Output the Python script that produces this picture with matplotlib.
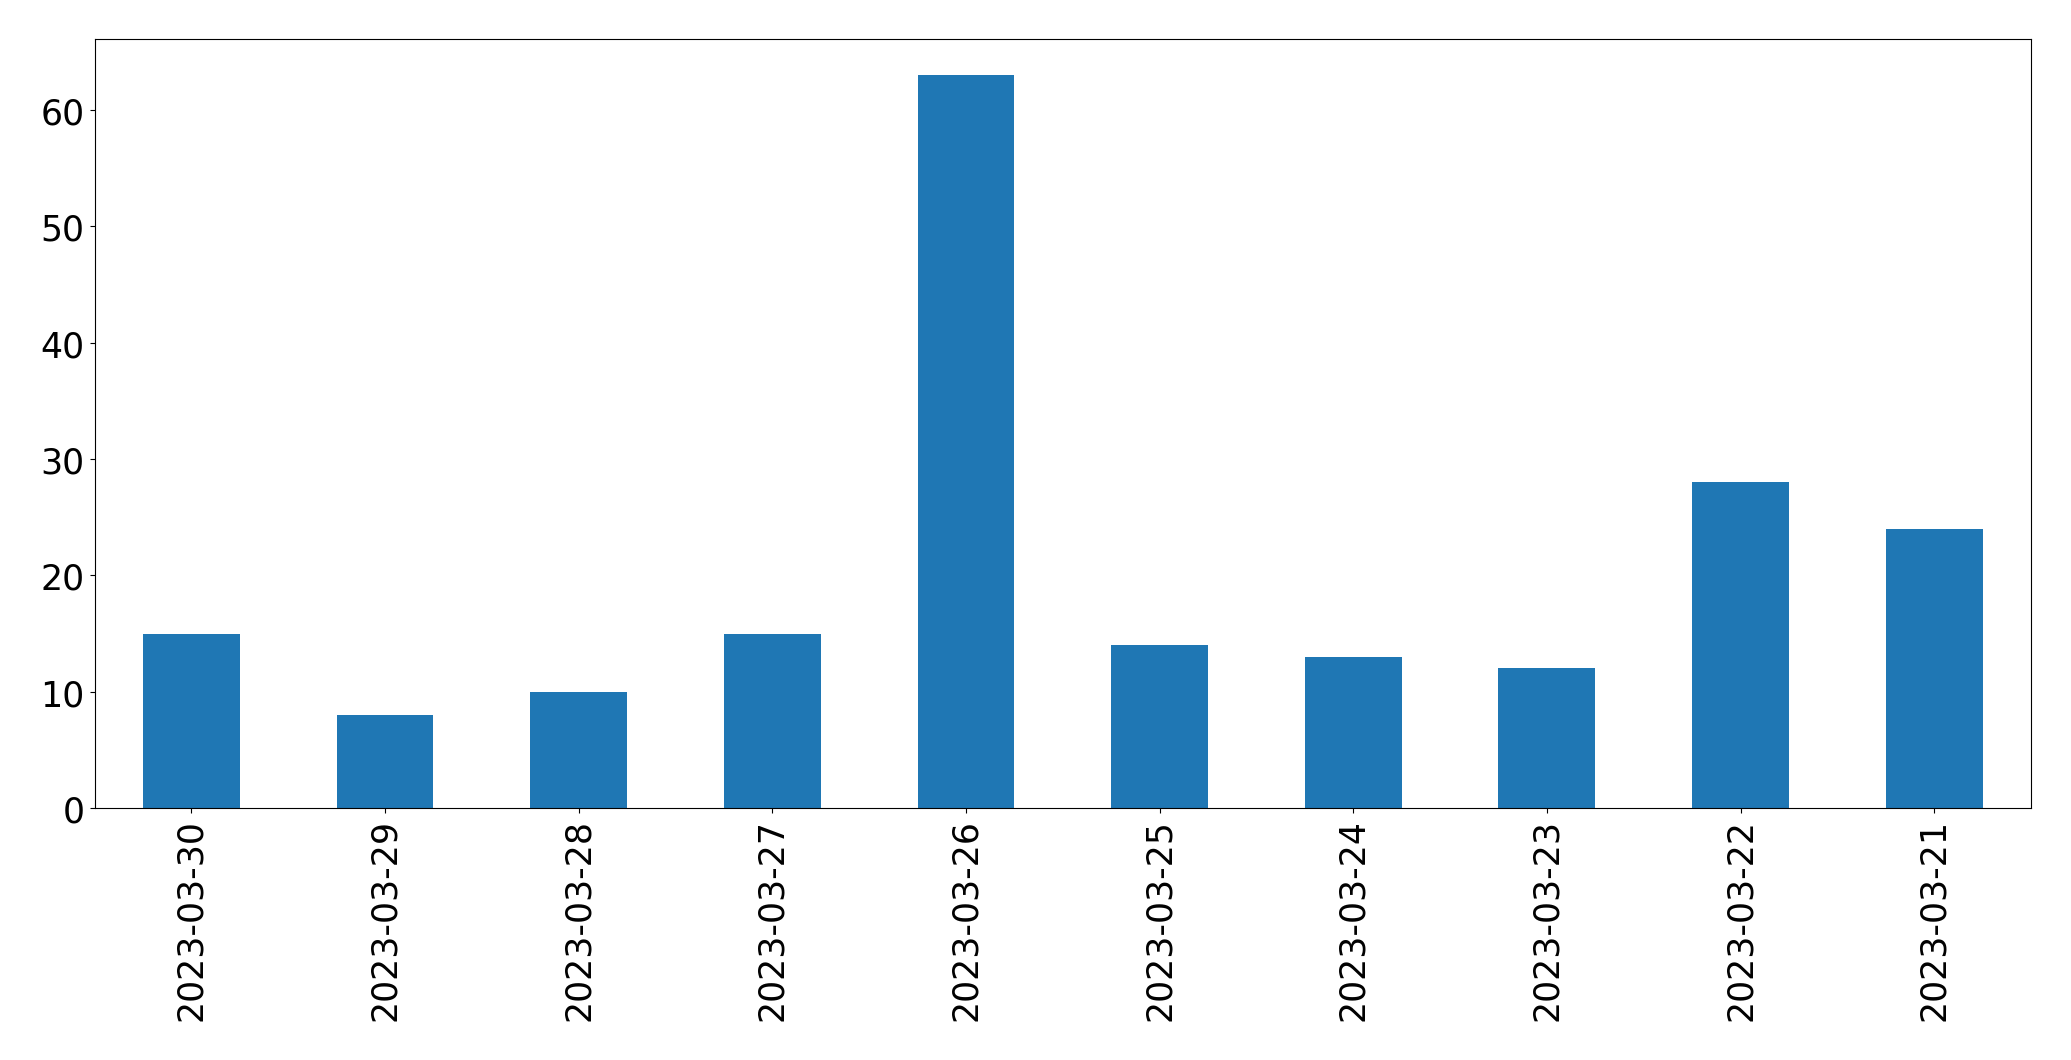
import matplotlib
matplotlib.use("Agg")
import matplotlib.pyplot as plt
import numpy as np

dates = ["2023-03-30", "2023-03-29", "2023-03-28", "2023-03-27", "2023-03-26",
         "2023-03-25", "2023-03-24", "2023-03-23", "2023-03-22", "2023-03-21"]
counts = [15, 8, 10, 15, 63, 14, 13, 12, 28, 24]

fig = plt.figure(figsize=(20.71, 10.609), dpi=100)
ax = fig.add_axes([94.5 / 2071, 1 - 809 / 1061, (2031 - 94.5) / 2071, (809 - 39.5) / 1061])

x = np.arange(len(dates))
ax.bar(x, counts, width=0.5, color="#1f77b4")
ax.set_xlim(-0.5, len(dates) - 0.5)
ax.set_ylim(0, max(counts) * 1.05)
ax.set_xticks(x)
ax.set_xticklabels(dates, rotation=90)
ax.tick_params(labelsize=25)

fig.savefig("out.png", dpi=100)
